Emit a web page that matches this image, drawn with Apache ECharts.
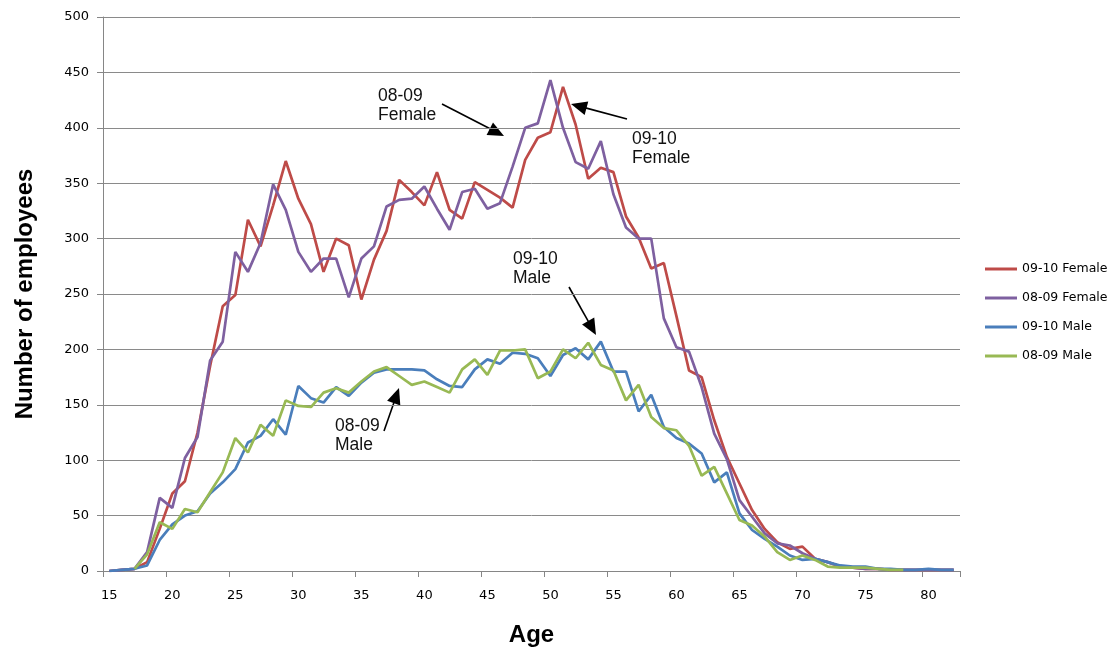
<!DOCTYPE html>
<html>
<head>
<meta charset="utf-8">
<title>Number of employees by age</title>
<script src="https://cdn.jsdelivr.net/npm/echarts/dist/echarts.min.js"></script>
<style>
  html, body { margin: 0; padding: 0; background: #ffffff; }
  #chart { width: 1116px; height: 652px; }
</style>
</head>
<body>
<div id="chart"></div>
<script>
// Ages on the category axis (15 .. 82)
const ages = [];
for (let a = 15; a <= 82; a++) ages.push(String(a));

// Headcount per age, one array per year and gender
const female0910 = [0, 1, 2, 8, 38, 70, 81, 125, 185, 239, 249, 317, 293, 330, 370, 336, 313, 270, 300, 294,
  245, 281, 307, 353, 342, 330, 360, 326, 318, 351, 344, 337, 328, 371, 391, 396, 437, 403, 354, 364,
  360, 320, 301, 273, 278, 230, 181, 175, 136, 103, 79, 55, 38, 26, 20, 22, 11, 8, 4, 3,
  2, 2, 1, 1, 1, 1, 1, 1];
const female0809 = [0, 1, 2, 17, 66, 57, 102, 121, 190, 207, 288, 270, 296, 349, 326, 288, 270, 282, 282, 247,
  282, 293, 329, 335, 336, 347, 327, 308, 342, 345, 327, 332, 365, 400, 404, 443, 400, 369, 363, 388,
  340, 310, 300, 300, 228, 202, 198, 166, 124, 101, 64, 49, 34, 25, 23, 16, 11, 8, 4, 3,
  2, 2, 1, 1, 1, 1, 1, 1];
const male0910 = [0, 1, 2, 5, 28, 42, 50, 54, 70, 80, 92, 116, 122, 137, 123, 167, 156, 152, 166, 158,
  170, 179, 182, 182, 182, 181, 173, 167, 166, 182, 191, 187, 197, 196, 192, 176, 195, 201, 191, 207,
  180, 180, 144, 159, 130, 120, 115, 106, 80, 89, 52, 37, 29, 22, 14, 10, 11, 8, 5, 4,
  4, 2, 2, 1, 1, 2, 1, 1];
const male0809 = [null, null, 2, 15, 44, 38, 56, 53, 71, 89, 120, 107, 132, 122, 154, 149, 148, 161, 165, 161,
  171, 180, 184, 176, 168, 171, 166, 161, 182, 191, 177, 199, 199, 200, 174, 180, 200, 192, 206, 186,
  181, 154, 168, 139, 129, 127, 113, 86, 94, 70, 46, 41, 31, 17, 10, 14, 10, 4, 3, 3,
  3, 2, 1, 1, null, null, null, null];

// Y axis ticks
const yMin = 0, yMax = 500, yStep = 50;

const seriesNames = ['09-10 Female', '08-09 Female', '09-10 Male', '08-09 Male'];
const seriesColors = ['#BE4B48', '#7E60A0', '#4A7EBB', '#98B954'];
const seriesData = [female0910, female0809, male0910, male0809];

// Callout labels with their arrows (pixel layout of the annotations)
const callouts = [
  { text: '08-09\nFemale', x: 378, y: 86,  tail: [442, 104], tip: [504, 136] },
  { text: '09-10\nFemale', x: 632, y: 129, tail: [627, 119], tip: [571, 104] },
  { text: '09-10\nMale',   x: 513, y: 249, tail: [569, 287], tip: [596, 335] },
  { text: '08-09\nMale',   x: 335, y: 416, tail: [384, 431], tip: [399, 388] }
];

function arrowGraphics(c) {
  const [x1, y1] = c.tail, [x2, y2] = c.tip;
  const dx = x2 - x1, dy = y2 - y1;
  const len = Math.sqrt(dx * dx + dy * dy);
  const ux = dx / len, uy = dy / len;
  const headLen = 16, headHalf = 7;
  const bx = x2 - ux * headLen, by = y2 - uy * headLen;
  return [
    {
      type: 'line',
      shape: { x1: x1, y1: y1, x2: bx + ux * 2, y2: by + uy * 2 },
      style: { stroke: '#000', lineWidth: 1.6 },
      silent: true
    },
    {
      type: 'polygon',
      shape: { points: [[x2, y2], [bx - uy * headHalf, by + ux * headHalf], [bx + uy * headHalf, by - ux * headHalf]] },
      style: { fill: '#000' },
      silent: true
    },
    {
      type: 'text',
      left: c.x, top: c.y,
      style: {
        text: c.text,
        font: '17.5px "Liberation Sans", Arial, sans-serif',
        lineHeight: 19.5,
        fill: '#111'
      },
      silent: true
    }
  ];
}

const chart = echarts.init(document.getElementById('chart'), null, { renderer: 'canvas' });

const option = {
  animation: false,
  backgroundColor: '#ffffff',
  grid: { left: 103, right: 156, top: 17, bottom: 81 },
  legend: {
    orient: 'vertical',
    left: 985,
    top: 262,
    padding: 0,
    icon: 'rect',
    itemWidth: 32,
    itemHeight: 3,
    itemGap: 15,
    data: seriesNames,
    textStyle: { fontFamily: 'DejaVu Sans', fontSize: 12.5, lineHeight: 14, color: '#000' }
  },
  xAxis: {
    type: 'category',
    data: ages,
    boundaryGap: true,
    name: 'Age',
    nameLocation: 'middle',
    nameGap: 52,
    nameTextStyle: { fontFamily: '"Liberation Sans", Arial, sans-serif', fontWeight: 'bold', fontSize: 24, color: '#000' },
    axisLine: { lineStyle: { color: '#868686', width: 1 } },
    axisTick: { show: true, interval: 4, length: 6, lineStyle: { color: '#868686' } },
    axisLabel: { interval: 4, margin: 18, fontFamily: 'DejaVu Sans', fontSize: 13, color: '#000' },
    splitLine: { show: false }
  },
  yAxis: {
    type: 'value',
    min: yMin,
    max: yMax,
    interval: yStep,
    name: 'Number of employees',
    nameLocation: 'middle',
    nameGap: 66,
    nameRotate: 90,
    nameTextStyle: { fontFamily: '"Liberation Sans", Arial, sans-serif', fontWeight: 'bold', fontSize: 24, color: '#000' },
    axisLine: { show: true, lineStyle: { color: '#868686', width: 1 } },
    axisTick: { show: true, length: 6, lineStyle: { color: '#868686' } },
    axisLabel: { margin: 14, fontFamily: 'DejaVu Sans', fontSize: 13, color: '#000' },
    splitLine: { show: true, lineStyle: { color: '#8a8a8a', width: 1 } }
  },
  series: seriesNames.map((name, i) => ({
    name: name,
    type: 'line',
    data: seriesData[i],
    symbol: 'none',
    showSymbol: false,
    smooth: false,
    connectNulls: false,
    color: seriesColors[i],
    lineStyle: { color: seriesColors[i], width: 2.7 },
    emphasis: { disabled: true }
  })),
  graphic: callouts.flatMap(arrowGraphics)
};

chart.setOption(option);
</script>
</body>
</html>
